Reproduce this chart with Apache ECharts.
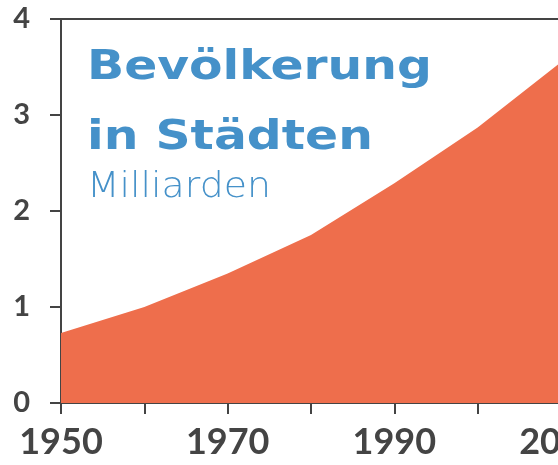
<!DOCTYPE html>
<html>
<head>
<meta charset="utf-8">
<script src="https://cdn.jsdelivr.net/npm/echarts@6/dist/echarts.min.js"></script>
<style>
  html, body { margin: 0; padding: 0; background: #fff; }
  #chart { width: 558px; height: 465px; }
</style>
</head>
<body>
<div id="chart"></div>
<script>
  // Stadtbevölkerung weltweit, Milliarden
  var years = [1950, 1960, 1970, 1980, 1990, 2000, 2010];
  var urbanPop = [0.73, 1.0, 1.35, 1.75, 2.29, 2.87, 3.55];
  var yTicks = [0, 1, 2, 3, 4];
  var xLabelYears = [1950, 1970, 1990, 2010];

  var titleLines = ['Bevölkerung', 'in Städten'];
  var unitText = 'Milliarden';

  var axisColor = '#444444';
  var areaColor = '#EE6E4C';
  var blue = '#4591C9';

  var chart = echarts.init(document.getElementById('chart'));

  var data = years.map(function (y, i) {
    return [y, urbanPop[i]];
  });

  var option = {
    animation: false,
    grid: {
      left: 61,
      right: -3,
      top: 19,
      bottom: 62,
      outerBoundsMode: 'none',
      containLabel: false
    },
    xAxis: [{
      type: 'value',
      min: years[0],
      max: years[years.length - 1],
      interval: 10,
      axisLine: { lineStyle: { color: axisColor, width: 2 } },
      axisTick: { length: 11, lineStyle: { color: axisColor, width: 2 } },
      splitLine: { show: false },
      axisLabel: {
        margin: 21,
        color: axisColor,
        fontFamily: 'Lato',
        fontWeight: 'bold',
        fontSize: 36,
        formatter: function (v) {
          return xLabelYears.indexOf(v) >= 0 ? String(v) : '';
        }
      }
    }, {
      // Linie am oberen Rand
      type: 'value',
      position: 'top',
      min: years[0],
      max: years[years.length - 1],
      axisLine: { show: true, onZero: false, lineStyle: { color: axisColor, width: 2 } },
      axisTick: { show: false },
      axisLabel: { show: false },
      splitLine: { show: false }
    }],
    yAxis: {
      type: 'value',
      min: yTicks[0],
      max: yTicks[yTicks.length - 1],
      interval: 1,
      axisLine: { show: true, lineStyle: { color: axisColor, width: 2 } },
      axisTick: { show: true, length: 11, lineStyle: { color: axisColor, width: 2 } },
      splitLine: { show: false },
      axisLabel: {
        margin: 31,
        color: axisColor,
        fontFamily: 'Lato',
        fontWeight: 'bold',
        fontSize: 29
      }
    },
    graphic: [{
      type: 'text',
      x: 87,
      y: 33,
      scaleX: 1.19,
      z: 100,
      style: {
        text: titleLines.join('\n'),
        fill: blue,
        font: 'bold 41px "DejaVu Sans"',
        lineHeight: 70
      }
    }, {
      type: 'text',
      x: 87,
      y: 170,
      scaleX: 1.08,
      z: 100,
      style: {
        text: unitText,
        fill: blue,
        font: '300 35px "DejaVu Sans"'
      }
    }],
    series: [{
      type: 'line',
      data: data,
      symbol: 'none',
      lineStyle: { width: 0 },
      areaStyle: { color: areaColor, opacity: 1 },
      z: 1
    }]
  };

  chart.setOption(option);
</script>
</body>
</html>
